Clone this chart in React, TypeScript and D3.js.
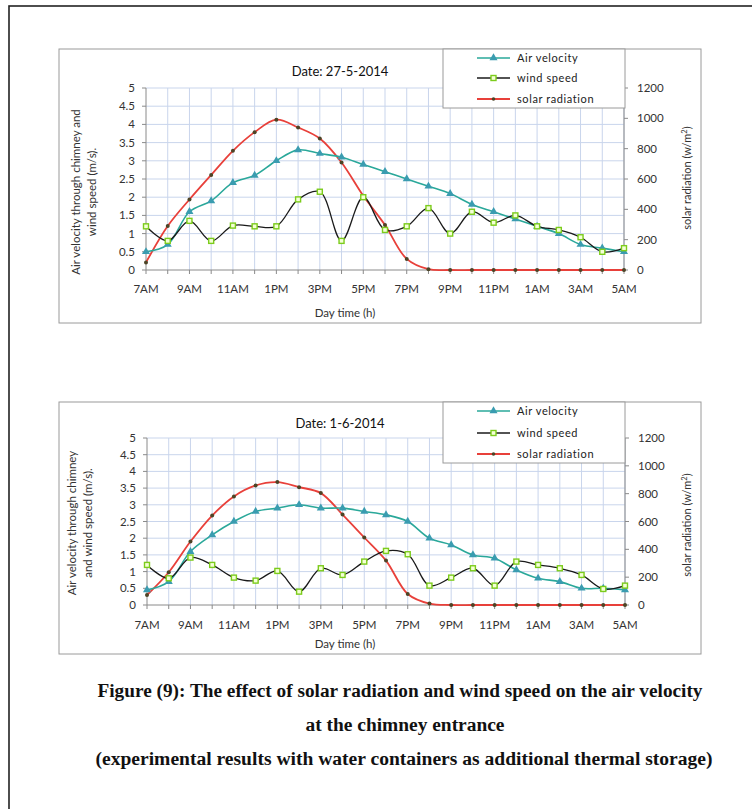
import React from 'react';
import * as d3 from 'd3';

const hours = ["7AM","8AM","9AM","10AM","11AM","12PM","1PM","2PM","3PM","4PM","5PM","6PM","7PM","8PM","9PM","10PM","11PM","12AM","1AM","2AM","3AM","4AM","5AM"];
const tickLabels = ["7AM","9AM","11AM","1PM","3PM","5PM","7PM","9PM","11PM","1AM","3AM","5AM"];
const leftTicks = [0, 0.5, 1, 1.5, 2, 2.5, 3, 3.5, 4, 4.5, 5];
const leftTickLabels = ["0","0.5","1","1.5","2","2.5","3","3.5","4","4.5","5"];
const rightTicks = [0, 200, 400, 600, 800, 1000, 1200];

// Chart 1: Date 27-5-2014
const air1 = [0.5,0.7,1.6,1.9,2.4,2.6,3.0,3.3,3.2,3.1,2.9,2.7,2.5,2.3,2.1,1.8,1.6,1.4,1.2,1.0,0.7,0.6,0.5];
const wind1 = [1.2,0.8,1.35,0.8,1.22,1.2,1.2,1.94,2.15,0.8,2.0,1.1,1.2,1.7,1.0,1.6,1.3,1.5,1.2,1.1,0.9,0.5,0.6];
const solar1 = [50,290,465,627,786,909,991,940,867,709,489,297,73,5,0,0,0,0,0,0,0,0,0];

// Chart 2: Date 1-6-2014
const air2 = [0.45,0.7,1.6,2.1,2.5,2.8,2.9,3.0,2.9,2.9,2.8,2.7,2.5,2.0,1.8,1.5,1.4,1.05,0.8,0.7,0.5,0.5,0.45];
const wind2 = [1.2,0.8,1.42,1.2,0.82,0.73,1.02,0.4,1.1,0.9,1.3,1.62,1.52,0.58,0.82,1.1,0.58,1.3,1.2,1.1,0.9,0.48,0.58];
const solar2 = [72,235,456,643,780,859,883,847,804,650,485,319,79,10,0,0,0,0,0,0,0,0,0];

const legendNames = ["Air velocity", "wind speed", "solar radiation"];

const AIR = "#2aa89a";
const AIR_MK = "#3a9cb0";
const WIND = "#1a1a1a";
const WIND_MK = "#7ccc1c";
const SOLAR = "#e8403a";
const SOLAR_MK = "#4d4426";
const GRID = "#c9d5ec";
const FONT = "Lato, 'Open Sans', sans-serif";

type PanelProps = {
  frameY: number; frameH: number;
  x0: number; x1: number; yT: number; yB: number;
  title: string; titleY: number;
  legendY: number; legendH: number; legendRows: number[];
  yTitle: string[]; yTitleXs: number[]; yTitleCy: number; rTitleCy: number;
  xTickY: number; xTitleY: number;
  air: number[]; wind: number[]; solar: number[];
};

const triPath = d3.symbol(d3.symbolTriangle, 28)() as string;

function Panel(p: PanelProps) {
  const x = d3.scalePoint<string>().domain(hours).range([p.x0, p.x1]);
  const yL = d3.scaleLinear().domain([0, 5]).range([p.yB, p.yT]);
  const yR = d3.scaleLinear().domain([0, 1200]).range([p.yB, p.yT]);
  const curve = d3.curveCatmullRom.alpha(0.5);
  const lineL = d3.line<number>().x((_, i) => x(hours[i]) as number).y(d => yL(d)).curve(curve);
  const lineR = d3.line<number>().x((_, i) => x(hours[i]) as number).y(d => Math.min(yR(d), p.yB)).curve(curve);

  const lx0 = 477, lx1 = 510, ltx = 517;
  return (
    <g>
      <rect x={59} y={p.frameY} width={642} height={p.frameH} fill="#fff" stroke="#9a9a9a" strokeWidth={1} />
      {hours.map((h, i) => i > 0 ? (
        <line key={'v' + i} x1={x(h)} x2={x(h)} y1={p.yT} y2={p.yB} stroke={GRID} strokeWidth={1} />
      ) : null)}
      {leftTicks.map((t, i) => i > 0 ? (
        <line key={'h' + i} x1={p.x0} x2={p.x1} y1={yL(t)} y2={yL(t)} stroke={GRID} strokeWidth={1} />
      ) : null)}
      <line x1={p.x0} x2={p.x0} y1={p.yT} y2={p.yB} stroke="#8a8a8a" />
      <line x1={p.x1} x2={p.x1} y1={p.yT} y2={p.yB} stroke="#8a8a8a" />
      <line x1={p.x0} x2={p.x1} y1={p.yB} y2={p.yB} stroke="#8a8a8a" />
      {leftTicks.map((t, i) => (
        <g key={'lt' + i}>
          <line x1={p.x0 - 4} x2={p.x0} y1={yL(t)} y2={yL(t)} stroke="#8a8a8a" />
          <text x={p.x0 - 11} y={yL(t) + 4} textAnchor="end" fontSize={11.5} fill="#333" fontFamily={FONT}>{leftTickLabels[i]}</text>
        </g>
      ))}
      {rightTicks.map((t, i) => (
        <g key={'rt' + i}>
          <line x1={p.x1} x2={p.x1 + 4} y1={yR(t)} y2={yR(t)} stroke="#8a8a8a" />
          <text x={p.x1 + 13} y={yR(t) + 4} textAnchor="start" fontSize={11.5} fill="#333" fontFamily={FONT}>{t}</text>
        </g>
      ))}
      {hours.map((h, i) => (
        <line key={'xt' + i} x1={x(h)} x2={x(h)} y1={p.yB} y2={p.yB + 4} stroke="#8a8a8a" />
      ))}
      {tickLabels.map((h, i) => (
        <text key={'xl' + i} x={x(h)} y={p.xTickY} textAnchor="middle" fontSize={11.5} fill="#333" fontFamily={FONT}>{h}</text>
      ))}
      <text x={345} y={p.xTitleY} textAnchor="middle" fontSize={11.5} fill="#333" fontFamily={FONT}>Day time (h)</text>
      {p.yTitle.map((s, i) => (
        <text key={'yt' + i} transform={`translate(${p.yTitleXs[i]},${p.yTitleCy}) rotate(-90)`} textAnchor="middle" fontSize={11.5} fill="#333" fontFamily={FONT}>{s}</text>
      ))}
      <text transform={`translate(${691},${p.rTitleCy}) rotate(-90)`} textAnchor="middle" fontSize={11} fill="#333" fontFamily={FONT}>
        solar radiation (w/m<tspan fontSize={7.5} dy={-4}>2</tspan><tspan dy={4}>)</tspan>
      </text>
      <text x={340} y={p.titleY} textAnchor="middle" fontSize={13} fill="#111" fontFamily={FONT}>{p.title}</text>

      <path d={lineR(p.solar) as string} fill="none" stroke={SOLAR} strokeWidth={1.8} />
      <path d={lineL(p.air) as string} fill="none" stroke={AIR} strokeWidth={1.6} />
      <path d={lineL(p.wind) as string} fill="none" stroke={WIND} strokeWidth={1.3} />
      {p.solar.map((d, i) => (
        <circle key={'sm' + i} cx={x(hours[i])} cy={yR(d)} r={2} fill={SOLAR_MK} />
      ))}
      {p.air.map((d, i) => (
        <path key={'am' + i} d={triPath} transform={`translate(${x(hours[i])},${yL(d)})`} fill={AIR_MK} />
      ))}
      {p.wind.map((d, i) => (
        <rect key={'wm' + i} x={(x(hours[i]) as number) - 2.5} y={yL(d) - 2.5} width={5} height={5} fill="#f4ffd6" stroke={WIND_MK} strokeWidth={1.4} />
      ))}

      <rect x={443} y={p.legendY} width={182} height={p.legendH} fill="#fff" stroke="#9a9a9a" />
      <line x1={lx0} x2={lx1} y1={p.legendRows[0]} y2={p.legendRows[0]} stroke={AIR} strokeWidth={1.6} />
      <path d={triPath} transform={`translate(${(lx0 + lx1) / 2},${p.legendRows[0]})`} fill={AIR_MK} />
      <line x1={lx0} x2={lx1} y1={p.legendRows[1]} y2={p.legendRows[1]} stroke={WIND} strokeWidth={1.3} />
      <rect x={(lx0 + lx1) / 2 - 2.5} y={p.legendRows[1] - 2.5} width={5} height={5} fill="#f4ffd6" stroke={WIND_MK} strokeWidth={1.4} />
      <line x1={lx0} x2={lx1} y1={p.legendRows[2]} y2={p.legendRows[2]} stroke={SOLAR} strokeWidth={1.8} />
      <circle cx={(lx0 + lx1) / 2} cy={p.legendRows[2]} r={1.8} fill={SOLAR_MK} />
      {legendNames.map((n, i) => (
        <text key={'ln' + i} x={ltx} y={p.legendRows[i] + 4} fontSize={11} letterSpacing={0.6} fill="#222" fontFamily={FONT}>{n}</text>
      ))}
    </g>
  );
}

export default function App() {
  const serif = "'Liberation Serif', 'Times New Roman', serif";
  return (
    <svg width={752} height={809} style={{ position: 'absolute', left: 0, top: 0, background: '#fff' }}>
      <rect x={0} y={0} width={752} height={809} fill="#fff" />
      <rect x={9} y={6} width={800} height={900} fill="none" stroke="#222" strokeWidth={1.6} />
      <Panel frameY={49} frameH={274} x0={146} x1={624} yT={88} yB={270}
        title="Date: 27-5-2014" titleY={76}
        legendY={49} legendH={59} legendRows={[58, 78, 99]}
        yTitle={["Air velocity through chimney and", "wind speed (m/s)."]} yTitleXs={[80, 96]} yTitleCy={192} rTitleCy={178}
        xTickY={293} xTitleY={317}
        air={air1} wind={wind1} solar={solar1} />
      <Panel frameY={402} frameH={252} x0={147} x1={625} yT={438} yB={605}
        title="Date: 1-6-2014" titleY={428}
        legendY={402} legendH={61} legendRows={[411, 433, 454]}
        yTitle={["Air velocity through chimney", "and wind speed (m/s)."]} yTitleXs={[76, 92]} yTitleCy={523} rTitleCy={525}
        xTickY={629} xTitleY={648}
        air={air2} wind={wind2} solar={solar2} />
      <text x={400} y={697} textAnchor="middle" fontSize={18} fontWeight="bold" fill="#111" fontFamily={serif} textLength={605} lengthAdjust="spacingAndGlyphs">Figure (9): The effect of solar radiation and wind speed on the air velocity</text>
      <text x={405} y={731} textAnchor="middle" fontSize={18} fontWeight="bold" fill="#111" fontFamily={serif} textLength={199} lengthAdjust="spacingAndGlyphs">at the chimney entrance</text>
      <text x={404} y={765} textAnchor="middle" fontSize={18} fontWeight="bold" fill="#111" fontFamily={serif} textLength={617} lengthAdjust="spacingAndGlyphs">(experimental results with water containers as additional thermal storage)</text>
    </svg>
  );
}
